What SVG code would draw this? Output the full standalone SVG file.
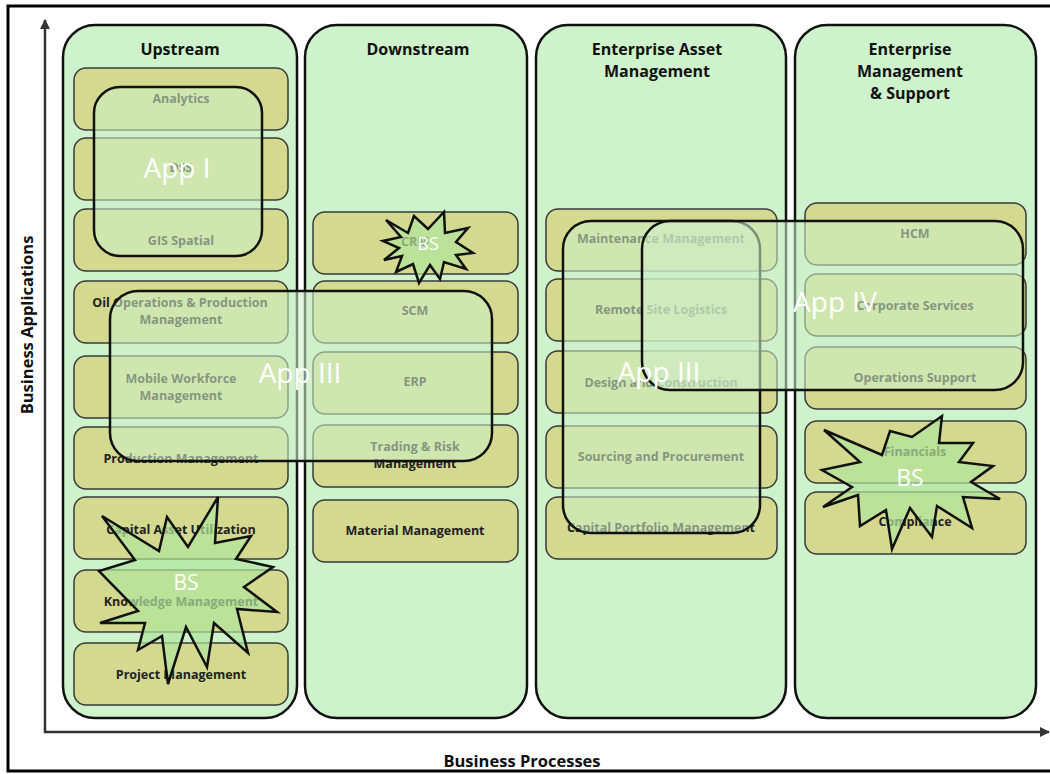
<svg xmlns="http://www.w3.org/2000/svg" width="1050" height="774" viewBox="0 0 1050 774">
  <defs>
    <style>
      .col { fill: #cef2cc; stroke: #111; stroke-width: 2.5; }
      .box { fill: #d3d98e; stroke: #3a3a3a; stroke-width: 1.5; }
      .app { fill: #cdf0c8; fill-opacity: 0.57; stroke: #111; stroke-width: 2.5; }
      .star { fill: #b0e59c; fill-opacity: 0.7; stroke: #111; stroke-width: 2.5; stroke-linejoin: miter; }
      .hdr { font-family: "Open Sans", "Liberation Sans", sans-serif; font-weight: bold; font-size: 16px; fill: #111; text-anchor: middle; }
      .lbl { font-family: "Open Sans", "Liberation Sans", sans-serif; font-weight: bold; font-size: 12.5px; fill: #222; text-anchor: middle; }
      .big { font-family: "Open Sans", "Liberation Sans", sans-serif; font-size: 28px; fill: #fff; text-anchor: middle; }
      .bs { font-family: "Open Sans", "Liberation Sans", sans-serif; font-size: 21px; fill: #fff; text-anchor: middle; }
      .axis { font-family: "Open Sans", "Liberation Sans", sans-serif; font-weight: bold; font-size: 16.5px; fill: #111; text-anchor: middle; }
      .ax { stroke: #333; stroke-width: 2.5; fill: none; }
    </style>
    <marker id="arrow" viewBox="0 0 10 10" refX="9" refY="5" markerWidth="4" markerHeight="4" orient="auto">
      <path d="M0,0 L10,5 L0,10 z" fill="#333"/>
    </marker>
  </defs>

  <rect x="0" y="0" width="1050" height="774" fill="#fff"/>
  <!-- outer frame -->
  <rect x="8" y="6" width="1050" height="765" fill="none" stroke="#000" stroke-width="3"/>

  <!-- axes -->
  <g id="connectors">
    <line class="ax" x1="45" y1="733" x2="45" y2="20" marker-end="url(#arrow)"/>
    <line class="ax" x1="44" y1="732" x2="1049" y2="732" marker-end="url(#arrow)"/>
  </g>
  <text class="axis" transform="translate(33,325) rotate(-90)">Business Applications</text>
  <text class="axis" x="522" y="767">Business Processes</text>

  <!-- Upstream -->
  <g id="upstream">
    <rect class="col" x="63" y="25" width="234" height="693" rx="32"/>
    <text class="hdr" x="180" y="55">Upstream</text>
    <rect class="box" x="74" y="68" width="214" height="62" rx="12"/>
    <text class="lbl" x="181" y="103">Analytics</text>
    <rect class="box" x="74" y="138" width="214" height="62" rx="12"/>
    <text class="lbl" x="181" y="172">DSS</text>
    <rect class="box" x="74" y="209" width="214" height="62" rx="12"/>
    <text class="lbl" x="181" y="245">GIS Spatial</text>
    <rect class="box" x="74" y="281" width="214" height="62" rx="12"/>
    <text class="lbl" x="180" y="307">Oil Operations &amp; Production</text>
    <text class="lbl" x="181" y="324">Management</text>
    <rect class="box" x="74" y="356" width="214" height="62" rx="12"/>
    <text class="lbl" x="181" y="383">Mobile Workforce</text>
    <text class="lbl" x="181" y="400">Management</text>
    <rect class="box" x="74" y="427" width="214" height="62" rx="12"/>
    <text class="lbl" x="181" y="463">Production Management</text>
    <rect class="box" x="74" y="497" width="214" height="62" rx="12"/>
    <text class="lbl" x="181" y="534">Capital Asset Utilization</text>
    <rect class="box" x="74" y="570" width="214" height="62" rx="12"/>
    <text class="lbl" x="181" y="606">Knowledge Management</text>
    <rect class="box" x="74" y="643" width="214" height="62" rx="12"/>
    <text class="lbl" x="181" y="679">Project Management</text>
  </g>

  <!-- Downstream -->
  <g id="downstream">
    <rect class="col" x="305" y="25" width="222" height="693" rx="32"/>
    <text class="hdr" x="418" y="55">Downstream</text>
    <rect class="box" x="313" y="212" width="205" height="62" rx="12"/>
    <text class="lbl" x="415" y="246">CRM</text>
    <rect class="box" x="313" y="281" width="205" height="62" rx="12"/>
    <text class="lbl" x="415" y="315">SCM</text>
    <rect class="box" x="313" y="352" width="205" height="62" rx="12"/>
    <text class="lbl" x="415" y="386">ERP</text>
    <rect class="box" x="313" y="425" width="205" height="62" rx="12"/>
    <text class="lbl" x="415" y="451">Trading &amp; Risk</text>
    <text class="lbl" x="415" y="468">Management</text>
    <rect class="box" x="313" y="500" width="205" height="62" rx="12"/>
    <text class="lbl" x="415" y="535">Material Management</text>
  </g>

  <!-- Enterprise Asset Management -->
  <g id="eam">
    <rect class="col" x="536" y="25" width="250" height="693" rx="32"/>
    <text class="hdr" x="657" y="55">Enterprise Asset</text>
    <text class="hdr" x="657" y="77">Management</text>
    <rect class="box" x="546" y="209" width="231" height="62" rx="12"/>
    <text class="lbl" x="661" y="243">Maintenance Management</text>
    <rect class="box" x="546" y="279" width="231" height="62" rx="12"/>
    <text class="lbl" x="661" y="314">Remote Site Logistics</text>
    <rect class="box" x="546" y="351" width="231" height="62" rx="12"/>
    <text class="lbl" x="661" y="387">Design and Construction</text>
    <rect class="box" x="546" y="426" width="231" height="62" rx="12"/>
    <text class="lbl" x="661" y="461">Sourcing and Procurement</text>
    <rect class="box" x="546" y="497" width="231" height="62" rx="12"/>
    <text class="lbl" x="661" y="532">Capital Portfolio Management</text>
  </g>

  <!-- Enterprise Management & Support -->
  <g id="ems">
    <rect class="col" x="795" y="25" width="241" height="693" rx="32"/>
    <text class="hdr" x="910" y="55">Enterprise</text>
    <text class="hdr" x="910" y="77">Management</text>
    <text class="hdr" x="910" y="99">&amp; Support</text>
    <rect class="box" x="805" y="203" width="221" height="62" rx="12"/>
    <text class="lbl" x="915" y="238">HCM</text>
    <rect class="box" x="805" y="274" width="221" height="62" rx="12"/>
    <text class="lbl" x="915" y="310">Corporate Services</text>
    <rect class="box" x="805" y="347" width="221" height="62" rx="12"/>
    <text class="lbl" x="915" y="382">Operations Support</text>
    <rect class="box" x="805" y="421" width="221" height="62" rx="12"/>
    <text class="lbl" x="915" y="456">Financials</text>
    <rect class="box" x="805" y="492" width="221" height="62" rx="12"/>
    <text class="lbl" x="915" y="526">Compliance</text>
  </g>

  <!-- application overlays -->
  <g id="app-1">
    <rect class="app" x="94" y="87" width="168" height="169" rx="26"/>
    <text class="big" x="177" y="178">App I</text>
  </g>
  <g id="app-3-left">
    <rect class="app" x="110" y="291" width="382" height="170" rx="28"/>
    <text class="big" x="300" y="383">App III</text>
  </g>
  <g id="app-3-eam">
    <rect class="app" x="563" y="221" width="197" height="312" rx="28"/>
  </g>
  <g id="app-4">
    <rect class="app" x="642" y="221" width="381" height="169" rx="28"/>
    <text class="big" x="835" y="312">App IV</text>
  </g>
  <text class="big" x="659" y="382">App III</text>

  <!-- business service bursts -->
  <g id="bs-upstream">
    <polygon class="star" points="218,497 215,543 251,536 236,559 273,567 244,587 277,612 237,609 248,653 214,623 207,667 186,627 168,684 162,636 138,650 145,623 100,623 138,611 99,571 135,560 102,516 159,551 167,517 188,547"/>
    <text class="bs" x="186" y="590">BS</text>
  </g>
  <g id="bs-crm">
    <polygon class="star" points="386,220 408,233 414,216 428,229 444,212 445,233 468,228 456,242 473,253 456,255 466,269 444,262 440,279 430,265 419,283 413,264 396,272 402,256 384,260 399,248 383,241 401,237"/>
    <text class="bs" x="428" y="250" style="font-size:18px">BS</text>
  </g>
  <g id="bs-ems">
    <polygon class="star" points="942,416 939,443 973,443 959,462 993,466 971,482 1000,499 963,497 972,528 937,506 932,537 910,508 892,549 886,510 860,526 858,495 823,507 852,487 822,470 860,462 824,430 882,455 890,431 912,437"/>
    <text class="bs" x="910" y="486" style="font-size:23px">BS</text>
  </g>
</svg>
